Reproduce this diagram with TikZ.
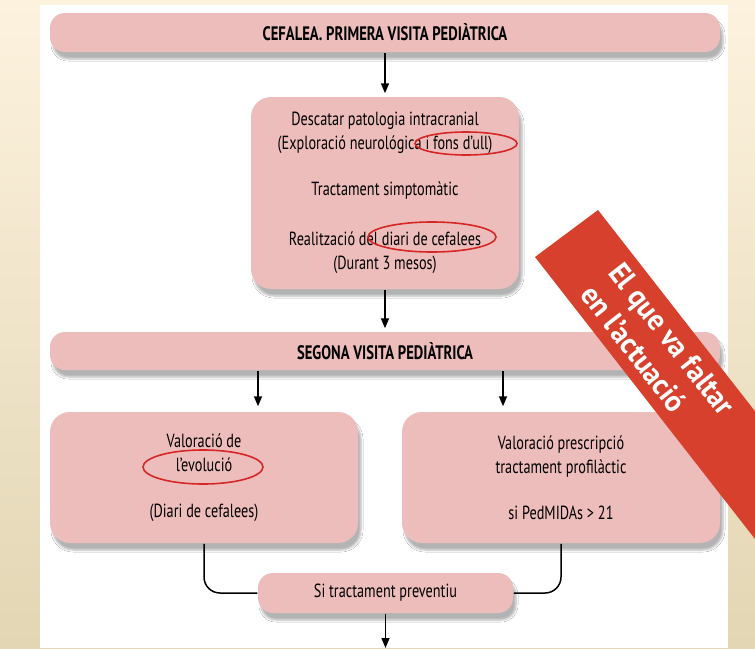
\documentclass[tikz,border=0pt]{standalone}
\usepackage{fontspec}
\setmainfont{PT Sans}[FakeStretch=0.75]
\newfontfamily\bandfont{PT Sans}[FakeStretch=0.95]
\usepackage{tikz}
\usetikzlibrary{positioning,arrows.meta,calc,shadows.blur}

\definecolor{boxpink}{RGB}{236,189,187}
\definecolor{ringred}{RGB}{214,38,38}
\definecolor{bandred}{RGB}{214,64,44}
\definecolor{creamtop}{RGB}{253,242,222}
\definecolor{creambot}{RGB}{226,214,180}

\tikzstyle{box} = [fill=boxpink, rounded corners=20pt, align=center,
                   blur shadow={shadow xshift=3pt, shadow yshift=-7pt,
                                shadow blur steps=6, shadow opacity=30}]
\tikzstyle{bar} = [box, rounded corners=15pt, minimum width=670pt,
                   font=\fontsize{19.5}{24}\selectfont\bfseries]
\tikzstyle{redring} = [draw=ringred, line width=1.6pt]
\tikzstyle{bandtext} = [text=white, align=left,
                        font=\fontsize{30}{36}\selectfont\bandfont\bfseries]

\begin{document}
\begin{tikzpicture}[
    x=1pt, y=-1pt,
    >={Triangle[length=10pt,width=8pt]},
    line width=1.5pt,
    font=\fontsize{19}{24}\selectfont
]

   \useasboundingbox (0,0) rectangle (755,648);
   \shade[top color=creamtop, bottom color=creambot] (0,0) rectangle (755,648);
   \fill[white] (40,5) rectangle (728,648);

   \node[bar, minimum height=39pt] (first) at (385,32.5)
        {CEFALEA. PRIMERA VISITA PEDIÀTRICA};
   \node[box, minimum width=268pt, minimum height=192pt] (diag) at (385,193)
        {Descatar patologia intracranial\\
         (Exploració neurológica i fons d’ull)\\[22pt]
         Tractament simptomàtic\\[26pt]
         Realització del diari de cefalees\\
         (Durant 3 mesos)};
   \node[bar, minimum height=38pt] (seg) at (385,351)
        {SEGONA VISITA PEDIÀTRICA};
   \node[box, minimum width=308pt, minimum height=131pt] (evol) at (204,477.5)
        {Valoració de\\ l’evolució\\[22pt] (Diari de cefalees)};
   \node[box, minimum width=318pt, minimum height=131pt] (presc) at (561,477.5)
        {Valoració prescripció\\ tractament profilàctic\\[22pt] si PedMIDAs > 21};
   \node[box, rounded corners=15pt, minimum width=255pt, minimum height=40pt]
        (prev) at (385.5,593) {Si tractament preventiu};
   \coordinate (out) at (385.5,648);

   % red marks
   \draw[redring] (466,143.5) ellipse (51 and 11.5);
   \draw[redring] (432,237) ellipse (64 and 15);
   \draw[redring] (203,467) ellipse (60 and 17);

   \draw[->, shorten >=3pt] (first) -- (diag);
   \draw[->, shorten >=3pt] (diag) -- (seg);
   \draw[->, shorten >=5pt] (seg.south -| 258,0) -- (evol.north -| 258,0);
   \draw[->, shorten >=5pt] (seg.south -| 503,0) -- (presc.north -| 503,0);
   \draw[rounded corners=16pt] (evol.south) |- (prev.west);
   \draw[rounded corners=16pt] (presc.south) |- (prev.east);
   \draw[->] (prev) -- (out);

   % banner
   \begin{scope}
     \clip (0,0) rectangle (755,648);
     \fill[bandred] (535,257) -- (598,210) -- (850,533) -- (787,580) -- cycle;
   \end{scope}
   \node[bandtext, rotate=-52] (faltar) at (658,350)
        {El que va faltar\\en l’actuació};

\end{tikzpicture}
\end{document}
